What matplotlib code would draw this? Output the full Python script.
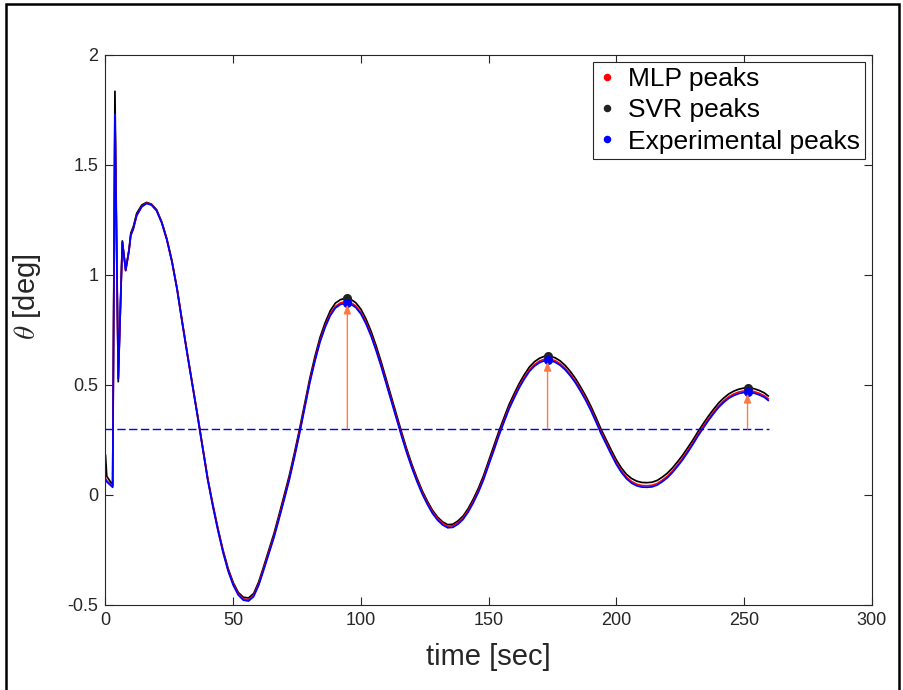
import numpy as np
import matplotlib
matplotlib.use("Agg")
import matplotlib.pyplot as plt
from matplotlib.patches import Rectangle

plt.rcParams['font.family'] = ['Liberation Sans', 'DejaVu Sans']
plt.rcParams['mathtext.fontset'] = 'cm'

# time samples [sec]: the start transient, then every 2 s up to the end
t_start = [0, 0.5, 2.8, 3.7, 5.0, 6.6, 7.9, 9.2, 9.9, 10.9, 12.2, 14.2, 16.1]
t_grid = list(range(18, 260, 2)) + [259.5]
t = t_start + t_grid

# experimental theta [deg]
exp_start = [0.07, 0.06, 0.035, 1.73, 0.53, 1.15, 1.02, 1.11, 1.18, 1.21, 1.27, 1.31, 1.325]
exp_grid = [1.318, 1.292, 1.237, 1.16, 1.06, 0.935, 0.785, 0.64, 0.50, 0.36, 0.215, 0.07,
            -0.05, -0.16, -0.26, -0.345, -0.41, -0.455, -0.478, -0.482, -0.462, -0.41,
            -0.339, -0.265, -0.192, -0.107, -0.02, 0.07, 0.172, 0.28, 0.395, 0.51,
            0.608, 0.695, 0.762, 0.815, 0.85, 0.866, 0.872, 0.868, 0.852, 0.823,
            0.778, 0.722, 0.655, 0.582, 0.503, 0.425, 0.345, 0.265, 0.19, 0.122,
            0.06, 0.005, -0.042, -0.083, -0.114, -0.136, -0.149, -0.147, -0.133, -0.111,
            -0.078, -0.036, 0.012, 0.068, 0.135, 0.2, 0.268, 0.33, 0.39, 0.44,
            0.487, 0.527, 0.562, 0.586, 0.602, 0.611, 0.611, 0.604, 0.59, 0.569,
            0.542, 0.51, 0.472, 0.431, 0.385, 0.334, 0.28, 0.232, 0.185, 0.14,
            0.103, 0.074, 0.054, 0.042, 0.036, 0.035, 0.037, 0.045, 0.06, 0.078,
            0.102, 0.13, 0.16, 0.194, 0.23, 0.268, 0.303, 0.337, 0.368, 0.397,
            0.42, 0.439, 0.452, 0.461, 0.466, 0.467, 0.463, 0.455, 0.444, 0.43]
theta_exp = exp_start + exp_grid

# MLP prediction
mlp_start = [0.075, 0.065, 0.04, 1.73, 0.53, 1.15, 1.02, 1.11, 1.18, 1.21, 1.27, 1.312, 1.327]
mlp_grid = [1.32, 1.294, 1.24, 1.163, 1.063, 0.939, 0.789, 0.644, 0.504, 0.364, 0.22, 0.075,
            -0.045, -0.155, -0.255, -0.34, -0.404, -0.449, -0.472, -0.476, -0.456, -0.404,
            -0.333, -0.259, -0.185, -0.1, -0.013, 0.077, 0.179, 0.287, 0.402, 0.517,
            0.615, 0.702, 0.769, 0.822, 0.857, 0.873, 0.879, 0.875, 0.859, 0.83,
            0.785, 0.729, 0.662, 0.589, 0.51, 0.432, 0.352, 0.272, 0.197, 0.129,
            0.067, 0.012, -0.035, -0.076, -0.107, -0.129, -0.142, -0.14, -0.126, -0.104,
            -0.071, -0.029, 0.019, 0.075, 0.142, 0.207, 0.275, 0.337, 0.397, 0.447,
            0.494, 0.534, 0.569, 0.593, 0.609, 0.618, 0.618, 0.611, 0.597, 0.576,
            0.549, 0.517, 0.479, 0.438, 0.392, 0.341, 0.287, 0.239, 0.192, 0.147,
            0.11, 0.081, 0.061, 0.049, 0.043, 0.042, 0.044, 0.052, 0.067, 0.085,
            0.109, 0.137, 0.167, 0.201, 0.237, 0.275, 0.31, 0.344, 0.375, 0.404,
            0.427, 0.446, 0.459, 0.468, 0.473, 0.474, 0.47, 0.462, 0.451, 0.437]
theta_mlp = mlp_start + mlp_grid

# SVR prediction
svr_start = [0.18, 0.085, 0.045, 1.835, 0.515, 1.155, 1.025, 1.115, 1.19, 1.22, 1.28, 1.318, 1.33]
svr_grid = [1.322, 1.297, 1.242, 1.166, 1.066, 0.941, 0.792, 0.647, 0.507, 0.367, 0.223, 0.078,
            -0.041, -0.151, -0.25, -0.334, -0.398, -0.443, -0.465, -0.468, -0.448, -0.395,
            -0.323, -0.248, -0.174, -0.088, 0.0, 0.09, 0.192, 0.3, 0.415, 0.53,
            0.629, 0.716, 0.783, 0.837, 0.872, 0.888, 0.894, 0.89, 0.874, 0.845,
            0.8, 0.744, 0.677, 0.603, 0.523, 0.444, 0.363, 0.283, 0.207, 0.138,
            0.076, 0.02, -0.027, -0.069, -0.1, -0.122, -0.135, -0.133, -0.118, -0.096,
            -0.062, -0.019, 0.03, 0.087, 0.154, 0.22, 0.288, 0.35, 0.41, 0.46,
            0.507, 0.547, 0.582, 0.606, 0.622, 0.631, 0.631, 0.624, 0.61, 0.589,
            0.562, 0.53, 0.492, 0.451, 0.405, 0.354, 0.3, 0.252, 0.205, 0.16,
            0.123, 0.094, 0.075, 0.063, 0.057, 0.056, 0.058, 0.066, 0.081, 0.099,
            0.123, 0.151, 0.181, 0.215, 0.25, 0.288, 0.323, 0.357, 0.388, 0.417,
            0.44, 0.459, 0.472, 0.481, 0.486, 0.487, 0.483, 0.475, 0.464, 0.45]
theta_svr = svr_start + svr_grid

# detected peaks
t_peaks = [94.7, 173.1, 251.4]
mlp_peaks = [0.879, 0.619, 0.474]
svr_peaks = [0.894, 0.632, 0.487]
exp_peaks = [0.872, 0.612, 0.467]
threshold = 0.3
t_end = 260

fig = plt.figure(figsize=(9.04, 6.9), dpi=100)
ax = fig.add_axes([0.1167, 0.1232, 0.8475, 0.7971])

ax.plot(t, theta_svr, color='k', lw=1.25)
ax.plot(t, theta_mlp, color='r', lw=1.25)
ax.plot(t, theta_exp, color='b', lw=1.25)
ax.plot([0, t_end], [threshold, threshold], color='b', lw=1.0, dashes=(6, 2.5))

for tp, yp in zip(t_peaks, exp_peaks):
    ax.annotate('', xy=(tp, yp - 0.006), xytext=(tp, threshold),
                arrowprops=dict(arrowstyle='-|>,head_length=0.45,head_width=0.18',
                                color='#ff7a45', lw=1.0,
                                mutation_scale=12, shrinkA=0, shrinkB=0))

ax.plot(t_peaks, mlp_peaks, 'o', color='r', ms=5.5, label='MLP peaks')
ax.plot(t_peaks, svr_peaks, 'o', color='#222222', ms=5.5, label='SVR peaks')
ax.plot(t_peaks, exp_peaks, 'o', color='b', ms=5.5, label='Experimental peaks')

ax.set_xlim(0, 300)
ax.set_ylim(-0.5, 2)
ax.set_xticks([0, 50, 100, 150, 200, 250, 300])
ax.set_xticklabels(['0', '50', '100', '150', '200', '250', '300'])
ax.set_yticks([-0.5, 0, 0.5, 1, 1.5, 2])
ax.set_yticklabels(['-0.5', '0', '0.5', '1', '1.5', '2'])
ax.tick_params(direction='in', length=6, width=0.8, top=True, right=True,
               labelsize=13, colors='#262626', pad=5)
for s in ax.spines.values():
    s.set_color('#262626')
    s.set_linewidth(0.8)

ax.set_xlabel('time [sec]', fontsize=21, color='#262626')
ax.set_ylabel(r'$\theta$ [deg]', fontsize=21, color='#262626')
ax.xaxis.set_label_coords(0.5, -0.069)
ax.yaxis.set_label_coords(-0.081, 0.56)

leg = ax.legend(loc='upper right', bbox_to_anchor=(1.0, 1.0), fontsize=19,
                frameon=True, fancybox=False, framealpha=1, edgecolor='#262626',
                handlelength=0.6, handletextpad=0.5, borderaxespad=0.25,
                labelspacing=0.28, borderpad=0.2, markerscale=0.8)
leg.get_frame().set_linewidth(0.8)

# figure border
fig.patches.append(Rectangle((0.007, -0.1), 0.988, 1.094, transform=fig.transFigure,
                             fill=False, edgecolor='k', lw=1.8))

fig.savefig('out.png', dpi=100)
